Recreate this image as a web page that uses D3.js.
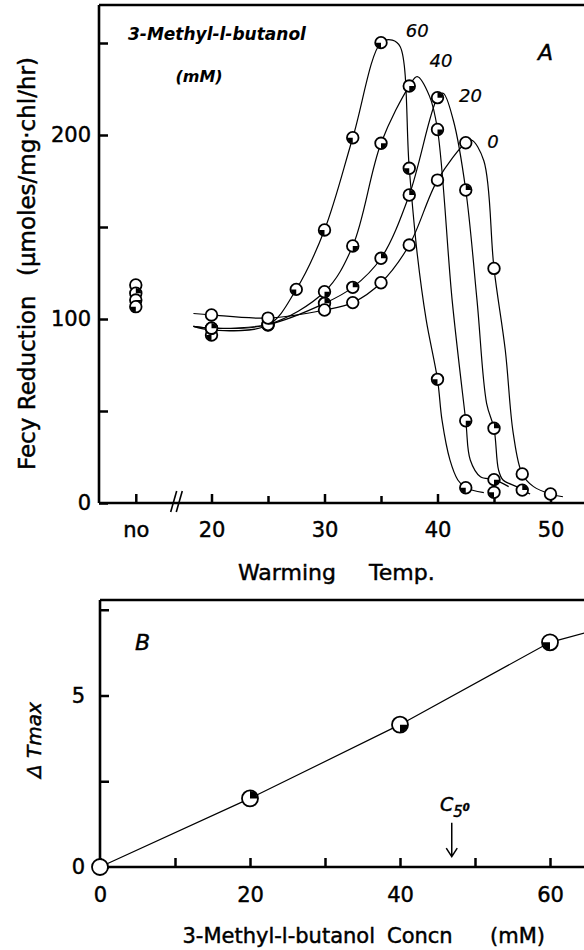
<!DOCTYPE html>
<html>
<head>
<meta charset="utf-8">
<script src="https://cdn.jsdelivr.net/npm/d3@7"></script>
<style>
  body { margin: 0; background: #fff; }
  svg text { font-family: "DejaVu Sans", sans-serif; fill: #000; stroke: #000; stroke-width: 0.45px; }
  svg text.bold { stroke-width: 0; }
</style>
</head>
<body>
<script>
// ---- panel A : Fecy reduction vs warming temperature ----
const concs = [0, 20, 40, 60];            // 3-methyl-1-butanol, mM
const noTemp = 13.3;                      // "no" warming, left of the axis break
const breakTemp = 16.9;
const noRate = [118.5, 114, 110.3, 106.7];

const temp0  = [20, 25, 30, 32.5, 35, 37.5, 40, 42.5, 45, 47.5, 50];
const rate0  = [102.2, 100.5, 104.9, 108.9, 119.7, 140.2, 175.5, 195.8, 127.5, 15.8, 4.9];
const temp20 = [20, 25, 30, 32.5, 35, 37.5, 40, 42.5, 45, 47.5];
const rate20 = [95, 97, 108.5, 117.2, 133, 167.4, 220.3, 170.1, 40.6, 7];
const temp40 = [20, 25, 30, 32.5, 35, 37.5, 40, 42.5, 45];
const rate40 = [95, 97, 114.8, 139.7, 195.5, 226.6, 203, 44.7, 12.7];
const temp60 = [20, 25, 27.5, 30, 32.5, 35, 37.5, 40, 42.5, 45];
const rate60 = [91.3, 96.7, 116.1, 148.4, 198.5, 250.2, 181.9, 67.2, 8.3, 5.8];

// hand drawn curves (temp, rate)
const fit0  = [[18.4,103],[20,102.2],[25,100.5],[30,104.9],[32.5,108.9],[35,119.7],[37.5,140.2],[40,175.5],[42.5,195.8],[43,197.3],[44.1,186],[45,127.5],[46,83],[46.7,38],[47.5,15.8],[48.5,8.9],[50,4.9],[51.1,3.4]];
const fit20 = [[18.4,96],[20,95],[25,97],[30,108.5],[32.5,117.2],[35,133],[37.5,167.4],[40,220.3],[40.5,222.7],[41.4,208],[42.5,170.1],[43.5,110],[44.35,54],[45,40.6],[45.4,18],[45.8,12.5],[47,8.9],[47.5,7],[48.2,4.9]];
const fit40 = [[18.4,96],[20,95],[25,97],[30,114.8],[32.5,139.7],[35,195.5],[37.5,226.6],[38.2,231.7],[39.3,221],[40,203],[41.3,110],[42.5,44.7],[42.9,23.4],[43.8,14.3],[45,12.7],[46.3,8.9]];
const fit60 = [[18.4,96],[20,94],[25,96.7],[27.5,116.1],[30,148.4],[32.5,198.5],[35,250.2],[36,251.6],[36.7,248],[37.5,181.9],[38.2,135.7],[39,99.5],[40,67.2],[40.4,45],[41.1,23.4],[41.8,12.5],[42.5,8.3],[44.1,5.6]];

// where each curve is labelled, same order as concs
const curveLabel = [[44.4, 193], [41.9, 218], [39.3, 237], [37.2, 253]];

// ---- panel B : shift of Tmax vs concentration ----
const bConc  = [0, 20, 40, 60];
const bShift = [0, 2.0, 4.15, 6.55];
const bFit   = [[0,0],[20,2.0],[40,4.15],[60,6.55],[65,6.85]];
const c50 = 46.9;

const series = [
  {c: 0,  t: temp0,  r: rate0,  fit: fit0},
  {c: 20, t: temp20, r: rate20, fit: fit20},
  {c: 40, t: temp40, r: rate40, fit: fit40},
  {c: 60, t: temp60, r: rate60, fit: fit60}
];
const wedge = {0: null, 20: [0, Math.PI/2], 40: [Math.PI/2, Math.PI], 60: [Math.PI, 1.5*Math.PI]};

const width = 584, height = 950;
const svg = d3.select('body').append('svg').attr('width', width).attr('height', height);

const xA = d3.scaleLinear().domain([20, 50]).range([211.5, 550.5]);
const yA = d3.scaleLinear().domain([0, 200]).range([503, 135]);
const xB = d3.scaleLinear().domain([0, 60]).range([100, 550]);
const yB = d3.scaleLinear().domain([0, 5]).range([867, 695.5]);

function marker(g, x, y, c, r) {
  g.append('circle').attr('cx', x).attr('cy', y).attr('r', r)
    .attr('fill', '#fff').attr('stroke', '#000').attr('stroke-width', 1.8);
  if (wedge[c]) {
    g.append('path')
      .attr('d', d3.arc()({innerRadius: 0, outerRadius: r - 0.5, startAngle: wedge[c][0], endAngle: wedge[c][1]}))
      .attr('transform', `translate(${x},${y})`).attr('fill', '#000');
  }
}

function styleAxis(g, size) {
  g.select('.domain').remove();
  g.attr('font-family', null).attr('font-size', size);
  g.selectAll('line').attr('stroke-width', 2.5);
}

// ---------- panel A ----------
const A = svg.append('g');
A.append('path').attr('d', 'M99,5H590M99,5V503M99,503H590')
  .attr('fill', 'none').attr('stroke', '#000').attr('stroke-width', 2.6);

A.append('g').attr('transform', 'translate(0,503)')
  .call(d3.axisBottom(xA).tickValues([noTemp, 20, 30, 40, 50]).tickSize(-9).tickPadding(19)
    .tickFormat(d => d === noTemp ? 'no' : d))
  .call(g => styleAxis(g, 21));
A.append('g').attr('transform', 'translate(0,503)')
  .call(d3.axisBottom(xA).tickValues([25, 35, 45]).tickSize(-7).tickFormat(''))
  .call(g => styleAxis(g, 21));
A.append('g').attr('transform', 'translate(99,0)')
  .call(d3.axisLeft(yA).tickValues([0, 100, 200]).tickSize(-9).tickPadding(8))
  .call(g => styleAxis(g, 21));
A.append('g').attr('transform', 'translate(99,0)')
  .call(d3.axisLeft(yA).tickValues([50, 150, 250]).tickSize(-9).tickFormat(''))
  .call(g => styleAxis(g, 21));

// axis break
[-2.8, 2.8].forEach(o => {
  const bx = xA(breakTemp) + o;
  A.append('line').attr('x1', bx - 3).attr('y1', 512).attr('x2', bx + 3).attr('y2', 491)
    .attr('stroke', '#000').attr('stroke-width', 1.6);
});

const lineA = d3.line().x(d => xA(d[0])).y(d => yA(d[1])).curve(d3.curveCatmullRom.alpha(0.5));
series.forEach(s => {
  A.append('path').attr('d', lineA(s.fit)).attr('fill', 'none')
    .attr('stroke', '#000').attr('stroke-width', 1.2);
});
series.forEach((s, i) => {
  marker(A, xA(noTemp), yA(noRate[i]), s.c, 5.8);
});
series.slice().reverse().forEach(s => {
  s.t.forEach((t, j) => marker(A, xA(t), yA(s.r[j]), s.c, 5.8));
});

series.forEach((s, i) => {
  A.append('text').attr('x', xA(curveLabel[i][0])).attr('y', yA(curveLabel[i][1]))
    .attr('font-size', 18).attr('font-style', 'italic').style('stroke-width', '0.2px').text(s.c);
});

A.append('text').attr('class', 'bold').attr('x', 128).attr('y', 40).attr('font-size', 17)
  .attr('font-weight', 'bold').attr('font-style', 'italic').text('3-Methyl-l-butanol');
A.append('text').attr('class', 'bold').attr('x', 199).attr('y', 82).attr('font-size', 16).attr('text-anchor', 'middle')
  .attr('font-weight', 'bold').attr('font-style', 'italic').text('(mM)');
A.append('text').attr('x', 538).attr('y', 60).attr('font-size', 22).attr('font-style', 'italic').text('A');

A.append('text').attr('transform', 'translate(35,470) rotate(-90)').attr('font-size', 23)
  .text('Fecy Reduction');
A.append('text').attr('transform', 'translate(35,57) rotate(-90)').attr('font-size', 23)
  .attr('text-anchor', 'end').text('(μmoles/mg·chl/hr)');

A.append('text').attr('x', 238).attr('y', 580).attr('font-size', 22).text('Warming');
A.append('text').attr('x', 369).attr('y', 580).attr('font-size', 22).text('Temp.');

// ---------- panel B ----------
const B = svg.append('g');
B.append('path').attr('d', 'M100,600H590M100,600V867M100,867H590')
  .attr('fill', 'none').attr('stroke', '#000').attr('stroke-width', 2.6);

B.append('g').attr('transform', 'translate(0,867)')
  .call(d3.axisBottom(xB).tickValues([0, 20, 40, 60]).tickSize(-9).tickPadding(20))
  .call(g => styleAxis(g, 21));
B.append('g').attr('transform', 'translate(0,867)')
  .call(d3.axisBottom(xB).tickValues([10, 30, 50]).tickSize(-9).tickFormat(''))
  .call(g => styleAxis(g, 21));
B.append('g').attr('transform', 'translate(100,0)')
  .call(d3.axisLeft(yB).tickValues([0, 5]).tickSize(-9).tickPadding(15).tickFormat(d3.format('d')))
  .call(g => styleAxis(g, 21));
B.append('g').attr('transform', 'translate(100,0)')
  .call(d3.axisLeft(yB).tickValues([2.5, 7.5]).tickSize(-9).tickFormat(''))
  .call(g => styleAxis(g, 21));

const lineB = d3.line().x(d => xB(d[0])).y(d => yB(d[1]));
B.append('path').attr('d', lineB(bFit)).attr('fill', 'none').attr('stroke', '#000').attr('stroke-width', 1.2);
bConc.forEach((c, i) => marker(B, xB(c), yB(bShift[i]), c, 8));

// C50 arrow
const ax = xB(c50);
B.append('path').attr('d', `M${ax},${yB(1.29)}V${yB(0.3)}M${ax - 5.5},${yB(0.55)}L${ax},${yB(0.3)}L${ax + 5.5},${yB(0.55)}`)
  .attr('fill', 'none').attr('stroke', '#000').attr('stroke-width', 1.5);
const ct = B.append('text').attr('x', 440).attr('y', 811).attr('font-size', 19).attr('font-style', 'italic');
ct.append('tspan').text('C');
ct.append('tspan').attr('dy', 6).attr('font-size', 15).text('5');
ct.append('tspan').attr('dy', -6).attr('font-size', 10).attr('font-weight', 'bold').text('0');

B.append('text').attr('x', 135).attr('y', 650).attr('font-size', 22).attr('font-style', 'italic').text('B');
B.append('text').attr('transform', 'translate(41,740) rotate(-90)').attr('font-size', 20)
  .attr('font-style', 'italic').attr('text-anchor', 'middle').text('Δ Tmax');

const xl = B.append('text').attr('y', 943).attr('font-size', 21);
xl.append('tspan').attr('x', 182.5).text('3-Methyl-l-butanol');
xl.append('tspan').attr('x', 387).text('Concn');
xl.append('tspan').attr('x', 490).text('(mM)');
</script>
</body>
</html>
